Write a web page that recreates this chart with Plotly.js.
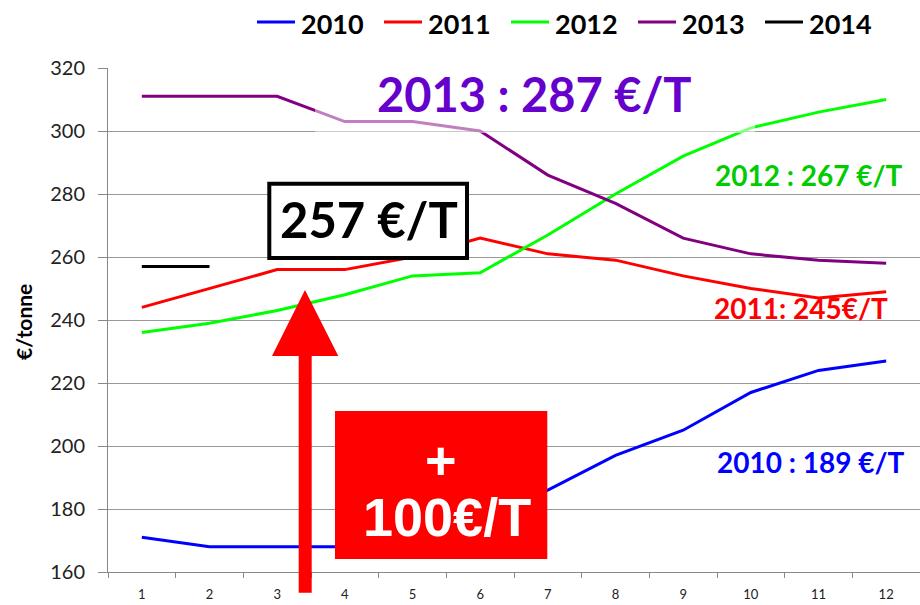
<!DOCTYPE html>
<html>
<head>
<meta charset="utf-8">
<script src="https://cdn.plot.ly/plotly-3.0.1.min.js"></script>
<style>html,body{margin:0;padding:0;background:#fff}#chart{width:920px;height:605px}</style>
</head>
<body>
<div id="chart"></div>
<script>
// ---- data ----
const months = ['1','2','3','4','5','6','7','8','9','10','11','12'];
const seriesNames = ['2010','2011','2012','2013','2014'];
const v2010 = [171, 168, 168, 168, 171, 177, 186, 197, 205, 217, 224, 227];
const v2011 = [244, 250, 256, 256, 260, 266, 261, 259, 254, 250, 247, 249];
const v2012 = [236, 239, 243, 248, 254, 255, 267, 280, 292, 301, 306, 310];
const v2013 = [311, 311, 311, 303, 303, 300, 286, 277, 266, 261, 259, 258];
const v2014 = [257, 257];
const yTicks = [160, 180, 200, 220, 240, 260, 280, 300, 320];
const labelTexts = ['2013 : 287 €/T', '257 €/T', '2012 : 267 €/T', '2011: 245€/T', '2010 : 189 €/T', '+', '100€/T'];
const yTitle = '€/tonne';

// ---- styles ----
const colors = ['#0000FF', '#FF0000', '#00FF00', '#800080', '#000000'];
const allValues = [v2010, v2011, v2012, v2013, v2014];
const W = 920, H = 605, L = 108, R = 920, T = 68, B = 572;
const PX = x => (x - L) / (R - L);
const PY = y => (B - y) / (B - T);
const calibri = 'Lato, "Open Sans", sans-serif';
const arial = '"Liberation Sans", Arial, sans-serif';

const traces = allValues.map((vals, i) => ({
  type: 'scatter', mode: 'lines',
  x: months.slice(0, vals.length), y: vals,
  name: seriesNames[i],
  line: {color: colors[i], width: 3},
  hoverinfo: 'skip', showlegend: false
}));

const arrowPts = [[298.7, 592.7], [298.7, 356], [272, 356], [305, 290], [338.3, 356], [311.7, 356], [311.7, 592.7]];
const arrowPath = 'M ' + arrowPts.map(p => PX(p[0]).toFixed(5) + ' ' + PY(p[1]).toFixed(5)).join(' L ') + ' Z';

const shapes = [
  {type: 'rect', xref: 'paper', yref: 'paper', x0: PX(315), x1: PX(755), y0: PY(133), y1: PY(62),
   fillcolor: 'rgba(255,255,255,0.5)', line: {width: 0}, layer: 'above'},
  {type: 'rect', xref: 'paper', yref: 'paper', x0: PX(269.3), x1: PX(467), y0: PY(258), y1: PY(183.7),
   fillcolor: '#FFFFFF', line: {color: '#000000', width: 4}, layer: 'above'},
  {type: 'rect', xref: 'paper', yref: 'paper', x0: PX(335), x1: PX(547.3), y0: PY(559), y1: PY(411),
   fillcolor: '#FF0000', line: {width: 0}, layer: 'above'},
  {type: 'path', xref: 'paper', yref: 'paper', path: arrowPath,
   fillcolor: '#FF0000', line: {width: 0}, layer: 'above'}
];

const ann = (text, x, y, size, color, family, xanchor, extra) => Object.assign({
  text: text, xref: 'paper', yref: 'paper', x: PX(x), y: PY(y), xanchor: xanchor || 'center', yanchor: 'middle',
  showarrow: false, font: {family: family || calibri, size: size, color: color, weight: 'bold'}
}, extra || {});

const annotations = [
  ann(labelTexts[0], 534.5, 94, 47, '#6600CC'),
  ann(labelTexts[1], 368.5, 219, 49, '#000000'),
  ann(labelTexts[2], 905, 175, 28, '#00CC00', null, 'right'),
  ann(labelTexts[3], 890, 308, 28, '#FF0000', null, 'right'),
  ann(labelTexts[4], 907, 462, 28, '#0000FF', null, 'right'),
  ann(labelTexts[5], 441, 460, 54, '#FFFFFF', arial),
  ann(labelTexts[6], 447, 517, 54, '#FFFFFF', arial),
  ann(yTitle, 23, 322, 21, '#000000', null, 'center', {textangle: -90})
];

// manual legend (line sample + label per series)
seriesNames.forEach((name, i) => {
  const x0 = 257 + i * 127;
  shapes.push({type: 'line', xref: 'paper', yref: 'paper', x0: PX(x0), x1: PX(x0 + 38), y0: PY(22), y1: PY(22),
               line: {color: colors[i], width: 3}, layer: 'above'});
  annotations.push(ann(name, x0 + 42, 23, 27, '#000000', null, 'left'));
});

const layout = {
  width: W, height: H,
  margin: {l: L, r: W - R, t: T, b: H - B, pad: 0},
  paper_bgcolor: '#FFFFFF', plot_bgcolor: '#FFFFFF',
  showlegend: false,
  xaxis: {type: 'category', range: [-0.5, 11.5], showgrid: false, zeroline: false,
          showline: true, linecolor: '#888888', linewidth: 1,
          ticks: 'outside', tickson: 'boundaries', ticklen: 5, tickcolor: '#888888', ticklabelstandoff: 10,
          tickfont: {family: calibri, size: 13, color: '#222222'}, fixedrange: true, automargin: false},
  yaxis: {range: [160, 320], tickvals: yTicks, ticktext: yTicks.map(String), showgrid: true, gridcolor: '#999999', gridwidth: 1,
          zeroline: false, showline: true, linecolor: '#888888', linewidth: 1,
          ticks: 'outside', ticklen: 9, tickcolor: '#888888', ticklabelstandoff: 9,
          tickfont: {family: calibri, size: 20, color: '#222222'}, fixedrange: true, automargin: false},
  shapes: shapes,
  annotations: annotations
};

Plotly.newPlot('chart', traces, layout, {displayModeBar: false, staticPlot: true});
</script>
</body>
</html>
